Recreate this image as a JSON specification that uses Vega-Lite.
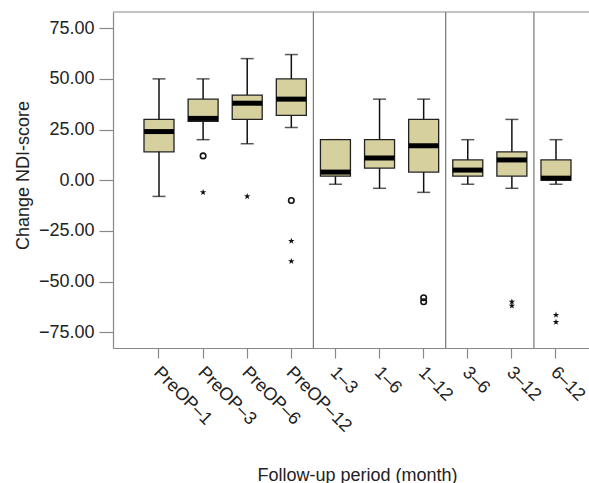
{
  "$schema": "https://vega.github.io/schema/vega-lite/v6.json",
  "width": 476,
  "height": 336,
  "autosize": {"type": "none"},
  "padding": {"left": 113, "top": 12, "right": 0, "bottom": 135},
  "background": "white",
  "config": {
    "view": {"stroke": null},
    "font": "Liberation Sans",
    "axis": {
      "grid": false,
      "domainColor": "#888888",
      "domainWidth": 1.2,
      "tickColor": "#888888",
      "tickWidth": 1.2,
      "labelColor": "#222222",
      "titleColor": "#222222",
      "labelFont": "Liberation Sans",
      "titleFont": "Liberation Sans",
      "labelFontSize": 18,
      "titleFontSize": 18,
      "titleFontWeight": "normal"
    }
  },
  "datasets": {
    "stats": [
      {"period": "PreOP–1", "lo": -8, "q1": 14, "med": 24, "q3": 30, "hi": 50},
      {"period": "PreOP–3", "lo": 20, "q1": 29, "med": 30.5, "q3": 40, "hi": 50},
      {"period": "PreOP–6", "lo": 18, "q1": 30, "med": 38, "q3": 42, "hi": 60},
      {"period": "PreOP–12", "lo": 26, "q1": 32, "med": 40, "q3": 50, "hi": 62},
      {"period": "1–3", "lo": -2, "q1": 2, "med": 4, "q3": 20, "hi": 20},
      {"period": "1–6", "lo": -4, "q1": 6, "med": 11, "q3": 20, "hi": 40},
      {"period": "1–12", "lo": -6, "q1": 4, "med": 17, "q3": 30, "hi": 40},
      {"period": "3–6", "lo": -2, "q1": 2, "med": 5, "q3": 10, "hi": 20},
      {"period": "3–12", "lo": -4, "q1": 2, "med": 10, "q3": 14, "hi": 30},
      {"period": "6–12", "lo": -2, "q1": 0, "med": 1, "q3": 10, "hi": 20}
    ],
    "outliers": [
      {"period": "PreOP–3", "value": 12, "kind": "o"},
      {"period": "PreOP–3", "value": -6, "kind": "*"},
      {"period": "PreOP–6", "value": -8, "kind": "*"},
      {"period": "PreOP–12", "value": -10, "kind": "o"},
      {"period": "PreOP–12", "value": -30, "kind": "*"},
      {"period": "PreOP–12", "value": -40, "kind": "*"},
      {"period": "1–12", "value": -58, "kind": "o"},
      {"period": "1–12", "value": -60, "kind": "o"},
      {"period": "3–12", "value": -60, "kind": "*"},
      {"period": "3–12", "value": -62, "kind": "*"},
      {"period": "6–12", "value": -66.5, "kind": "*"},
      {"period": "6–12", "value": -70, "kind": "*"}
    ],
    "dividers": [
      {"after": "PreOP–12"},
      {"after": "1–12"},
      {"after": "3–12"}
    ]
  },
  "encoding": {
    "x": {
      "field": "period",
      "type": "nominal",
      "sort": ["PreOP–1", "PreOP–3", "PreOP–6", "PreOP–12", "1–3", "1–6", "1–12", "3–6", "3–12", "6–12"],
      "scale": {
        "domain": ["PreOP–1", "PreOP–3", "PreOP–6", "PreOP–12", "1–3", "1–6", "1–12", "3–6", "3–12", "6–12"],
        "paddingInner": 0,
        "paddingOuter": 0.3956,
        "align": 0.686
      },
      "axis": {
        "title": "Follow-up period (month)",
        "titleX": 244,
        "titleY": 132,
        "titleBaseline": "alphabetic",
        "titleAnchor": null,
        "labelAngle": 45,
        "labelAlign": "left",
        "labelBaseline": "top",
        "labelPadding": 5,
        "labelOffset": 4,
        "tickSize": 10
      }
    }
  },
  "layer": [
    {
      "data": {"name": "stats"},
      "mark": {"type": "rule", "color": "#111111", "strokeWidth": 1.5},
      "encoding": {
        "y": {
          "field": "lo",
          "type": "quantitative",
          "scale": {"domain": [-82.8, 83], "nice": false, "zero": false},
          "axis": {
            "title": "Change NDI-score",
            "values": [-75, -50, -25, 0, 25, 50, 75],
            "format": ".2f",
            "tickSize": 14,
            "labelPadding": 5,
            "titleX": -85,
            "titleY": 163,
            "titleAngle": -90,
            "titleAlign": "center",
            "titleBaseline": "alphabetic",
            "titleAnchor": null
          }
        },
        "y2": {"field": "hi"}
      }
    },
    {
      "data": {"name": "stats"},
      "mark": {"type": "tick", "color": "#111111", "size": 13, "thickness": 1.5},
      "encoding": {"y": {"field": "lo", "type": "quantitative"}}
    },
    {
      "data": {"name": "stats"},
      "mark": {"type": "tick", "color": "#111111", "size": 13, "thickness": 1.5},
      "encoding": {"y": {"field": "hi", "type": "quantitative"}}
    },
    {
      "data": {"name": "stats"},
      "mark": {"type": "bar", "width": 30, "fill": "#d5d09e", "stroke": "#222222", "strokeWidth": 1.3},
      "encoding": {
        "y": {"field": "q1", "type": "quantitative"},
        "y2": {"field": "q3"}
      }
    },
    {
      "data": {"name": "stats"},
      "mark": {"type": "tick", "color": "#000000", "size": 30, "thickness": 5, "opacity": 1},
      "encoding": {"y": {"field": "med", "type": "quantitative"}}
    },
    {
      "data": {"name": "outliers"},
      "transform": [{"filter": "datum.kind === 'o'"}],
      "mark": {"type": "point", "shape": "circle", "filled": false, "size": 30, "stroke": "#111111", "strokeWidth": 1.6, "opacity": 1},
      "encoding": {"y": {"field": "value", "type": "quantitative"}}
    },
    {
      "data": {"name": "outliers"},
      "transform": [{"filter": "datum.kind === '*'"}],
      "mark": {"type": "point", "shape": "M0,-1L0.235,-0.324L0.951,-0.309L0.38,0.124L0.588,0.809L0,0.4L-0.588,0.809L-0.38,0.124L-0.951,-0.309L-0.235,-0.324Z", "filled": true, "size": 45, "fill": "#111111", "opacity": 1},
      "encoding": {"y": {"field": "value", "type": "quantitative"}}
    },
    {
      "data": {"name": "dividers"},
      "mark": {"type": "rule", "color": "#777777", "strokeWidth": 1.2},
      "encoding": {"x": {"field": "after", "type": "nominal", "bandPosition": 1}}
    },
    {
      "data": {"values": [{}]},
      "mark": {"type": "rule", "color": "#888888", "strokeWidth": 1.2},
      "encoding": {"y": {"datum": 83, "type": "quantitative"}, "x": null}
    }
  ]
}
